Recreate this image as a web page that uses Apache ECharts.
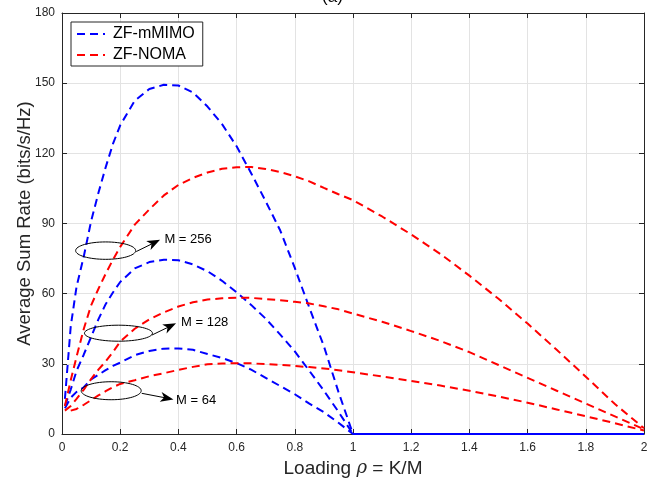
<!DOCTYPE html>
<html>
<head>
<meta charset="utf-8">
<script src="https://cdn.jsdelivr.net/npm/echarts@6/dist/echarts.min.js"></script>
<style>
  html, body { margin: 0; padding: 0; background: #fff; }
  #main { width: 665px; height: 482px; }
</style>
</head>
<body>
<div id="main"></div>
<script>
// loading rho = K/M
var xs = [0.01, 0.03, 0.05, 0.075, 0.1, 0.125, 0.15, 0.175, 0.2, 0.25, 0.3, 0.35, 0.4, 0.45, 0.5,
          0.55, 0.6, 0.65, 0.7, 0.75, 0.8, 0.85, 0.9, 0.95, 1.0,
          1.1, 1.2, 1.3, 1.4, 1.5, 1.6, 1.7, 1.8, 1.9, 2.0];

// ZF-mMIMO
var mimo256 = [15, 46, 63, 76, 91, 103, 114, 124, 132, 142.5, 147.5, 149.3, 149, 146, 140,
               132.5, 123, 111.5, 99.5, 87, 71, 54, 37.5, 18, 0,
               0, 0, 0, 0, 0, 0, 0, 0, 0, 0];
var mimo128 = [12, 19, 27, 34, 41.5, 49, 55.5, 60.5, 65, 70.8, 73.5, 74.5, 74.3, 72.5, 69.6,
               65.5, 60.6, 55.2, 49.3, 42.5, 35.3, 27, 18.5, 9.5, 0,
               0, 0, 0, 0, 0, 0, 0, 0, 0, 0];
var mimo64 = [11, 15.5, 18, 20, 23.3, 25.3, 27.3, 29.1, 30.5, 33.7, 35.5, 36.5, 36.6, 36, 34.2,
              32.5, 30.3, 27.5, 24, 20.5, 17, 13, 9.3, 4.8, 0,
              0, 0, 0, 0, 0, 0, 0, 0, 0, 0];

// ZF-NOMA
var noma256 = [12, 23, 33, 45, 55, 62, 68.5, 74.5, 80, 89.5, 96, 102, 106.5, 109.5, 111.8,
               113.4, 114, 114.2, 113.3, 112, 110.2, 108, 105.2, 102.5, 100,
               93, 85.3, 77, 67.7, 57.8, 47.2, 36, 24.5, 12.8, 2.5];
var noma128 = [10, 12, 15, 19, 23.5, 27.5, 31, 35, 39.5, 45, 49, 52, 54.5, 56.3, 57.5,
               58, 58.3, 58.2, 57.7, 57.2, 56.5, 55.8, 54.6, 53.3, 51.5,
               48, 44, 39.8, 35, 29.5, 24, 18.5, 13, 7.5, 2];
var noma64 = [null, 10, 10.7, 12.5, 14.5, 16.5, 18.3, 20, 21.4, 23, 24.7, 26, 27.4, 28.7, 29.8,
              30.1, 30.3, 30.2, 29.9, 29.6, 29.1, 28.6, 28, 27.3, 26.4,
              24.6, 22.7, 20.7, 18.5, 16, 13.4, 10.5, 7.6, 4.6, 1.5];

var xTicks = [0, 0.2, 0.4, 0.6, 0.8, 1, 1.2, 1.4, 1.6, 1.8, 2];
var yTicks = [0, 30, 60, 90, 120, 150, 180];

// annotation anchors (data coords), label text
var notes = [
  { label: 'M = 256', center: [0.150, 78.4], rx: 30, ry: 8.7, from: [0.255, 78], to: [0.337, 83], text: [0.352, 83.4] },
  { label: 'M = 128', center: [0.194, 43.1], rx: 34, ry: 8,   from: [0.309, 42.3], to: [0.392, 47.3], text: [0.409, 47.5] },
  { label: 'M = 64',  center: [0.169, 18.5], rx: 30, ry: 9,   from: [0.274, 17.4], to: [0.383, 14.8], text: [0.392, 14.2] }
];

function pairs(ys) {
  return xs.map(function (x, i) { return [x, ys[i]]; });
}

var axisCol = '#262626';
var FONT = '"Liberation Sans", Arial, sans-serif';

var myChart = echarts.init(document.getElementById('main'));

function mkSeries(name, ys, color) {
  return {
    name: name,
    type: 'line',
    data: pairs(ys),
    symbol: 'none',
    xAxisIndex: 0,
    yAxisIndex: 0,
    lineStyle: { color: color, width: 2, type: [8, 5] },
    itemStyle: { color: color },
    animation: false
  };
}

var option = {
  animation: false,
  title: {
    text: '(a)',
    left: 'center',
    top: -16,
    textStyle: { fontFamily: FONT, fontSize: 17, fontWeight: 'normal', color: '#000' }
  },
  grid: { left: 62, right: 21, top: 13, bottom: 48, containLabel: false, outerBoundsMode: 'none' },
  legend: {
    left: 71,
    top: 22,
    orient: 'vertical',
    data: ['ZF-mMIMO', 'ZF-NOMA'],
    backgroundColor: '#fff',
    borderColor: axisCol,
    borderWidth: 1,
    borderRadius: 0,
    padding: [4, 8, 3, 5],
    itemWidth: 28,
    itemHeight: 14,
    itemGap: 5,
    itemStyle: { color: 'rgba(0,0,0,0)', borderWidth: 0 },
    textStyle: { fontFamily: FONT, fontSize: 16, color: '#000', padding: [0, 0, 0, 3] }
  },
  xAxis: [{
    type: 'value',
    min: 0, max: 2, interval: 0.2,
    name: '{n|Loading }{i|ρ}{n| = K/M}',
    nameLocation: 'middle',
    nameGap: 22,
    nameTextStyle: {
      rich: {
        n: { fontFamily: FONT, fontSize: 19, color: '#262626' },
        i: { fontFamily: '"DejaVu Serif", serif', fontStyle: 'italic', fontSize: 18, color: '#262626' }
      }
    },
    axisLine: { lineStyle: { color: axisCol, width: 1 } },
    axisTick: { inside: true, length: 5, lineStyle: { color: axisCol } },
    axisLabel: {
      fontFamily: FONT, fontSize: 12, color: axisCol, margin: 8,
      formatter: function (v) { return xTicks.indexOf(Math.round(v * 10) / 10) >= 0 ? String(Math.round(v * 10) / 10) : ''; }
    },
    splitLine: { show: true, lineStyle: { color: '#e3e3e3', width: 1 } }
  }, {
    type: 'value',
    position: 'top',
    min: 0, max: 2, interval: 0.2,
    axisLine: { show: true, onZero: false, lineStyle: { color: axisCol, width: 1 } },
    axisTick: { show: true, inside: true, length: 5, lineStyle: { color: axisCol } },
    axisLabel: { show: false },
    splitLine: { show: false }
  }],
  yAxis: [{
    type: 'value',
    min: 0, max: 180, interval: 30,
    name: 'Average Sum Rate (bits/s/Hz)',
    nameLocation: 'middle',
    nameGap: 28,
    nameMoveOverlap: false,
    nameTextStyle: { fontFamily: FONT, fontSize: 18.5, color: '#262626' },
    axisLine: { show: true, lineStyle: { color: axisCol, width: 1 } },
    axisTick: { show: true, inside: true, length: 5, lineStyle: { color: axisCol } },
    axisLabel: { fontFamily: FONT, fontSize: 12, color: axisCol, margin: 7 },
    splitLine: { show: true, lineStyle: { color: '#e3e3e3', width: 1 } }
  }, {
    type: 'value',
    position: 'right',
    min: 0, max: 180, interval: 30,
    axisLine: { show: true, onZero: false, lineStyle: { color: axisCol, width: 1 } },
    axisTick: { show: true, inside: true, length: 5, lineStyle: { color: axisCol } },
    axisLabel: { show: false },
    splitLine: { show: false }
  }],
  series: [
    mkSeries('ZF-mMIMO', mimo256, '#0000ff'),
    mkSeries('ZF-mMIMO', mimo128, '#0000ff'),
    mkSeries('ZF-mMIMO', mimo64, '#0000ff'),
    mkSeries('ZF-NOMA', noma256, '#ff0000'),
    mkSeries('ZF-NOMA', noma128, '#ff0000'),
    mkSeries('ZF-NOMA', noma64, '#ff0000')
  ]
};

myChart.setOption(option);

// ellipses + arrows + labels
var els = [];
notes.forEach(function (n) {
  var c = myChart.convertToPixel({ xAxisIndex: 0, yAxisIndex: 0 }, n.center);
  var a = myChart.convertToPixel({ xAxisIndex: 0, yAxisIndex: 0 }, n.from);
  var b = myChart.convertToPixel({ xAxisIndex: 0, yAxisIndex: 0 }, n.to);
  var t = myChart.convertToPixel({ xAxisIndex: 0, yAxisIndex: 0 }, n.text);
  els.push({
    type: 'ellipse',
    shape: { cx: c[0], cy: c[1], rx: n.rx, ry: n.ry },
    style: { fill: null, stroke: '#000', lineWidth: 1 },
    z: 100
  });
  var ang = Math.atan2(b[1] - a[1], b[0] - a[0]);
  var hl = 11, hw = 5;
  var bx = b[0] - hl * Math.cos(ang), by = b[1] - hl * Math.sin(ang);
  els.push({
    type: 'line',
    shape: { x1: a[0], y1: a[1], x2: bx + 2 * Math.cos(ang), y2: by + 2 * Math.sin(ang) },
    style: { stroke: '#000', lineWidth: 1 },
    z: 100
  });
  els.push({
    type: 'polygon',
    shape: { points: [
      [b[0], b[1]],
      [bx - hw * Math.sin(ang) - 2 * Math.cos(ang), by + hw * Math.cos(ang) - 2 * Math.sin(ang)],
      [bx + 1.5 * Math.cos(ang), by + 1.5 * Math.sin(ang)],
      [bx + hw * Math.sin(ang) - 2 * Math.cos(ang), by - hw * Math.cos(ang) - 2 * Math.sin(ang)]
    ] },
    style: { fill: '#000' },
    z: 100
  });
  els.push({
    type: 'text',
    x: t[0], y: t[1],
    style: { text: n.label, fontFamily: FONT, fontSize: 13, fill: '#000', textVerticalAlign: 'middle', textAlign: 'left' },
    z: 100
  });
});
myChart.setOption({ graphic: els });
</script>
</body>
</html>
